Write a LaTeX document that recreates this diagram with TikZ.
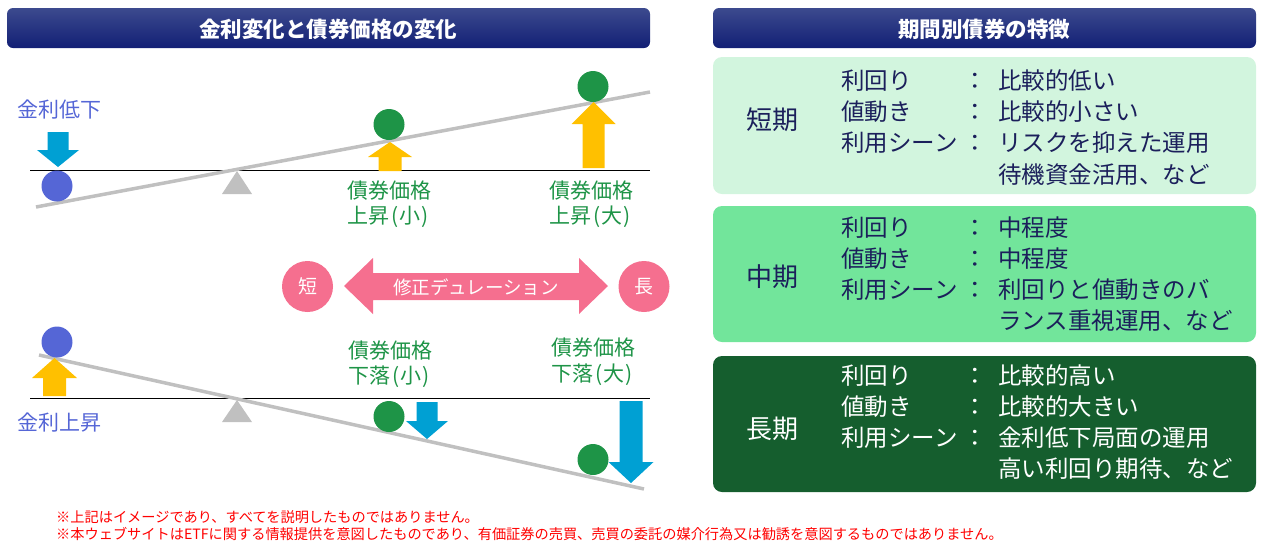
\documentclass[tikz,border=0pt]{standalone}
\usepackage{fontspec}
\setmainfont{Noto Sans CJK JP}
\usetikzlibrary{shapes.geometric}
\definecolor{hdrtop}{HTML}{3C4A8E}
\definecolor{hdrbot}{HTML}{121F75}
\definecolor{navytxt}{HTML}{1B1F5B}
\definecolor{boxA}{HTML}{D2F5DE}
\definecolor{boxB}{HTML}{72E59B}
\definecolor{boxC}{HTML}{155E2E}
\definecolor{rateblue}{HTML}{5566D6}
\definecolor{arrcyan}{HTML}{00A0D3}
\definecolor{arryel}{HTML}{FFC000}
\definecolor{bondgreen}{HTML}{1E9447}
\definecolor{beamgray}{HTML}{C0C0C0}
\definecolor{durpink}{HTML}{F56F8F}
\definecolor{notered}{HTML}{FF0000}
\newcommand\fs[1]{\fontsize{#1}{#1}\selectfont}
\newcommand\pr[1]{\kern.1em(\kern.06em#1\kern.06em)\kern.1em}
% #1 colour, #2 x, #3 tail y, #4 tip y, #5 head base y, #6 shaft half width, #7 head half width
\newcommand\blockarrow[7]{%
  \fill[#1] ({#2-#6},#3) -- ({#2-#6},#5) -- ({#2-#7},#5) -- (#2,#4) -- ({#2+#7},#5) -- ({#2+#6},#5) -- ({#2+#6},#3) -- cycle;}
\begin{document}
\begin{tikzpicture}[x=1pt,y=-1pt,
  hdr/.style={rounded corners=6pt, top color=hdrtop, bottom color=hdrbot},
  hdrtext/.style={text=white, font=\fs{21.5}\bfseries},
  beam/.style={draw=beamgray, line width=3.5pt},
  ground/.style={draw=black, line width=0.9pt},
  ball/.style={circle, minimum size=31pt, inner sep=0pt},
  ratelbl/.style={text=rateblue, font=\fs{21}},
  bondlbl/.style={text=bondgreen, font=\fs{21}, align=center, inner sep=0pt},
  pinkball/.style={circle, fill=durpink, minimum size=51pt, inner sep=0pt, text=white, font=\fs{19}},
  termbox/.style={rounded corners=9pt},
  termlbl/.style={font=\fs{26}},
  rowtxt/.style={anchor=west, font=\fs{23.5}, inner sep=0pt},
  note/.style={anchor=west, text=notered, font=\fs{14.2}, inner sep=0pt}
]
\useasboundingbox (0,0) rectangle (1266,550);

% ---------- headers ----------
\path[hdr] (7,8) rectangle (650,48);
\node[hdrtext] (hL) at (328,29) {金利変化と債券価格の変化};
\path[hdr] (713,8) rectangle (1256,48);
\node[hdrtext] (hR) at (984,29) {期間別債券の特徴};

% ---------- top seesaw (rates fall) ----------
\draw[ground] (30,170) -- (650,170);
\fill[beamgray] (222,194) -- (237,171) -- (252,194) -- cycle;
\draw[beam] (36,207) -- (650,92);
\node[ball, fill=rateblue] (b1) at (57,186) {};
\node[ball, fill=bondgreen] (g1) at (389,124.5) {};
\node[ball, fill=bondgreen] (g2) at (593,86.5) {};
\blockarrow{arrcyan}{58}{132}{167}{150}{10.5}{21}
\blockarrow{arryel}{390}{171}{142}{157}{11.5}{22}
\blockarrow{arryel}{593.5}{168}{102}{124}{11}{22}
\node[ratelbl] (down) at (59,110) {金利低下};
\node[bondlbl] (up1a) at (389,191) {債券価格};
\node[bondlbl] (up1b) at (389,217) {上昇\pr{小}};
\node[bondlbl] (up2a) at (591,191) {債券価格};
\node[bondlbl] (up2b) at (591,217) {上昇\pr{大}};

% ---------- modified duration ----------
\node[pinkball] (short) at (307.5,286.5) {短};
\node[pinkball] (long) at (644,286.5) {長};
\fill[durpink] (344,286) -- (373,258) -- (373,273) -- (579,273) -- (579,258) -- (608,286)
  -- (579,314) -- (579,300) -- (373,300) -- (373,314) -- cycle;
\node[text=white, font=\fs{18.5}] (dur) at (476,287) {修正デュレーション};

% ---------- bottom seesaw (rates rise) ----------
\draw[ground] (30,398) -- (650,398);
\fill[beamgray] (222,422) -- (237,400) -- (252,422) -- cycle;
\draw[beam] (39,355) -- (644,489);
\node[ball, fill=rateblue] (b2) at (57,342) {};
\node[ball, fill=bondgreen] (g3) at (389,416.5) {};
\node[ball, fill=bondgreen] (g4) at (593,459.5) {};
\blockarrow{arryel}{54.5}{396}{358}{378}{11.5}{22.5}
\blockarrow{arrcyan}{427}{402}{439}{421}{10.5}{21}
\blockarrow{arrcyan}{631}{401}{483}{462}{11.5}{22.5}
\node[ratelbl] (up) at (59,423) {金利上昇};
\node[bondlbl] (dn1a) at (390,351) {債券価格};
\node[bondlbl] (dn1b) at (390,377) {下落\pr{小}};
\node[bondlbl] (dn2a) at (593,348) {債券価格};
\node[bondlbl] (dn2b) at (593,375) {下落\pr{大}};

% ---------- footnotes ----------
\node[note] (n1) at (56,517) {※上記はイメージであり、すべてを説明したものではありません。};
\node[note] (n2) at (56,534) {※本ウェブサイトはETFに関する情報提供を意図したものであり、有価証券の売買、売買の委託の媒介行為又は勧誘を意図するものではありません。};

% ---------- term boxes ----------
\fill[termbox, boxA] (713,57) rectangle (1256,194);
\begin{scope}[every node/.append style={text=navytxt}]
\node[termlbl] (tS) at (772,120) {短期};
\node[rowtxt] (s1) at (841,81) {利回り};
\node[rowtxt] (s2) at (841,112) {値動き};
\node[rowtxt] (s3) at (841,143) {利用シーン};
\node[rowtxt] at (963,81) {：};
\node[rowtxt] at (963,112) {：};
\node[rowtxt] at (963,143) {：};
\node[rowtxt] (s1v) at (998,81) {比較的低い};
\node[rowtxt] (s2v) at (998,112) {比較的小さい};
\node[rowtxt] (s3v) at (998,143) {リスクを抑えた運用};
\node[rowtxt] (s4v) at (998,175) {待機資金活用、など};
\end{scope}

\fill[termbox, boxB] (713,206) rectangle (1256,342);
\begin{scope}[every node/.append style={text=navytxt}]
\node[termlbl] (tM) at (772,277) {中期};
\node[rowtxt] (m1) at (841,228) {利回り};
\node[rowtxt] (m2) at (841,259) {値動き};
\node[rowtxt] (m3) at (841,290) {利用シーン};
\node[rowtxt] at (963,228) {：};
\node[rowtxt] at (963,259) {：};
\node[rowtxt] at (963,290) {：};
\node[rowtxt] (m1v) at (998,228) {中程度};
\node[rowtxt] (m2v) at (998,259) {中程度};
\node[rowtxt] (m3v) at (998,290) {利回りと値動きのバ};
\node[rowtxt] (m4v) at (998,321) {ランス重視運用、など};
\end{scope}

\fill[termbox, boxC] (713,356) rectangle (1256,492);
\begin{scope}[every node/.append style={text=white}]
\node[termlbl] (tL) at (772,429) {長期};
\node[rowtxt] (l1) at (841,376) {利回り};
\node[rowtxt] (l2) at (841,407) {値動き};
\node[rowtxt] (l3) at (841,438) {利用シーン};
\node[rowtxt] at (963,376) {：};
\node[rowtxt] at (963,407) {：};
\node[rowtxt] at (963,438) {：};
\node[rowtxt] (l1v) at (998,376) {比較的高い};
\node[rowtxt] (l2v) at (998,407) {比較的大きい};
\node[rowtxt] (l3v) at (998,438) {金利低下局面の運用};
\node[rowtxt] (l4v) at (998,469) {高い利回り期待、など};
\end{scope}
\end{tikzpicture}
\end{document}
